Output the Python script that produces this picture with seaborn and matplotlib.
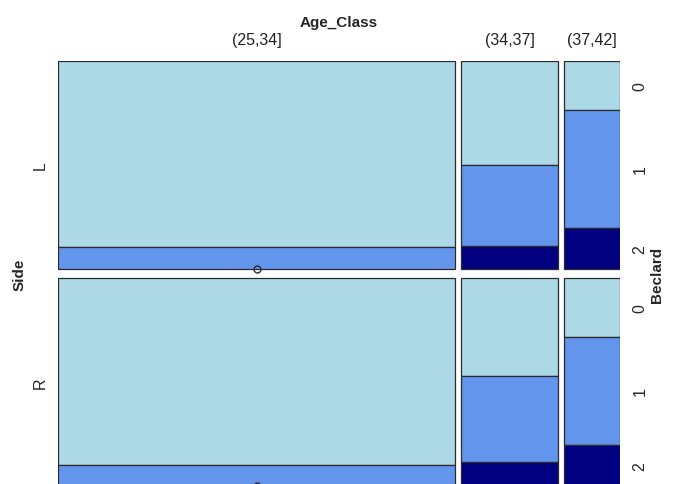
import numpy as np
import matplotlib
matplotlib.use("Agg")
import matplotlib.pyplot as plt
import seaborn as sns

# Mosaic data (shares, in percent)
age_classes = ["(25,34]", "(34,37]", "(37,42]"]
age_share = [72.2, 17.6, 10.2]
sides = ["L", "R"]
side_share = [50.0, 50.0]
beclard_levels = ["0", "1", "2"]
beclard_L = [[89.4, 10.6, 0.0], [50.0, 39.0, 11.0], [23.6, 56.7, 19.7]]
beclard_R = [[90.0, 10.0, 0.0], [47.0, 41.5, 11.5], [28.4, 51.9, 19.7]]
beclard_by_side = {"L": beclard_L, "R": beclard_R}

sns.set_theme(style="white")
plt.rcParams["font.family"] = ["Liberation Sans", "DejaVu Sans"]
colors = ["#ADD8E6", "#6495ED", "#000080"]
fs = 11.5

W, H = 677, 485
fig = plt.figure(figsize=(W / 100, H / 100), dpi=100)
# mosaic area in pixels: x 58..620, y 62..487
ax = fig.add_axes([58 / W, (H - 487) / H, 562 / W, 425 / H])

gap_x = 6 / 562
gap_y = 9 / 425
xs = np.array(age_share) / sum(age_share) * (1 - gap_x * (len(age_classes) - 1))
ys = np.array(side_share) / sum(side_share) * (1 - gap_y * (len(sides) - 1))

x_left = np.concatenate([[0], np.cumsum(xs + gap_x)[:-1]])
y_top = np.concatenate([[0], np.cumsum(ys + gap_y)[:-1]])

for si, side in enumerate(sides):
    for ai in range(len(age_classes)):
        shares = np.array(beclard_by_side[side][ai])
        shares = shares / shares.sum()
        bottom = y_top[si]
        for bi, s in enumerate(shares):
            h = s * ys[si]
            if h > 0:
                ax.bar(x_left[ai], h, width=xs[ai], bottom=bottom, align="edge",
                       color=colors[bi], edgecolor="#2b2b2b", linewidth=0.9)
            else:
                # empty cell marker
                ax.plot(x_left[ai] + xs[ai] / 2, bottom, marker="o", ms=5,
                        mfc="none", mec="#2b2b2b", mew=1.0, clip_on=False, zorder=5)
            bottom += h

ax.set_xlim(0, 1)
ax.set_ylim(1, 0)
ax.axis("off")

# top labels
for ai, lab in enumerate(age_classes):
    ax.annotate(lab, (x_left[ai] + xs[ai] / 2, 1.05), xycoords=("data", "axes fraction"),
                ha="center", va="center", fontsize=fs, color="#222222")
ax.text(0.5, 1.092, "Age_Class", transform=ax.transAxes, ha="center", va="center",
        fontsize=fs - 0.5, fontweight="bold")

# left labels
for si, lab in enumerate(sides):
    ax.annotate(lab, (-0.032, y_top[si] + ys[si] / 2), xycoords=("axes fraction", "data"),
                ha="center", va="center", rotation=90, fontsize=fs)
ax.text(-0.068, 0.5, "Side", transform=ax.transAxes, ha="center", va="center",
        rotation=90, fontsize=fs - 0.5, fontweight="bold")

# right labels (positions of the last column's tiles)
last = len(age_classes) - 1
for si, side in enumerate(sides):
    shares = np.array(beclard_by_side[side][last])
    shares = shares / shares.sum()
    tops = y_top[si] + np.concatenate([[0], np.cumsum(shares)[:-1]]) * ys[si]
    for bi, lab in enumerate(beclard_levels):
        ax.annotate(lab, (1.036, tops[bi] + shares[bi] * ys[si] / 2),
                    xycoords=("axes fraction", "data"), ha="center", va="center",
                    rotation=90, fontsize=fs, annotation_clip=False)
ax.text(1.066, 0.5, "Beclard", transform=ax.transAxes, ha="center", va="center",
        rotation=90, fontsize=fs - 0.5, fontweight="bold")

fig.savefig("out.png", dpi=100)
